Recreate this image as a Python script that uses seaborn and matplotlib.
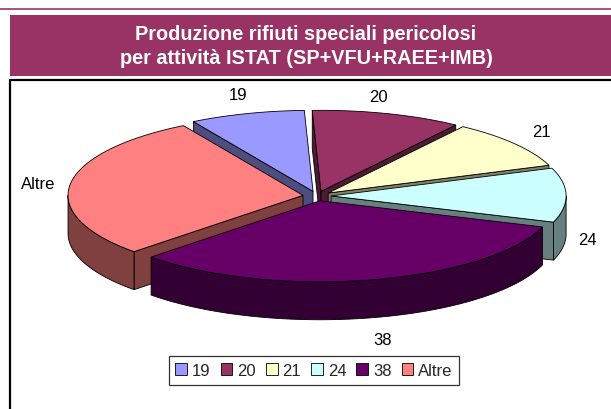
import numpy as np
import matplotlib
matplotlib.use("Agg")
import matplotlib.pyplot as plt
from matplotlib.patches import Polygon, Rectangle, Patch
import seaborn as sns

# data (share of hazardous special waste by ISTAT activity, %)
categories = ["19", "20", "21", "24", "38", "Altre"]
shares = [7.9, 10.3, 9.7, 10.8, 32.5, 28.7]
top_colors = ["#9999FF", "#993366", "#FFFFCC", "#CCFFFF", "#660066", "#FF8080"]
title_lines = ["Produzione rifiuti speciali pericolosi",
               "per attività ISTAT (SP+VFU+RAEE+IMB)"]

sns.set_theme(style="white")
plt.rcParams["font.family"] = ["Liberation Sans", "DejaVu Sans"]

W, H = 611, 410
fig = plt.figure(figsize=(W / 100, H / 100), dpi=100)
ax = fig.add_axes([0, 0, 1, 1])
ax.set_xlim(0, W)
ax.set_ylim(H, 0)
ax.axis("off")

# frame / title band
ax.plot([0, W], [10, 10], color="#993366", lw=1.2)
ax.add_patch(Rectangle((10, 16), W - 10, 61, color="#993366", lw=0))
ax.text(306, 35, title_lines[0], ha="center", va="center", color="white",
        fontsize=14.3, fontweight="bold")
ax.text(306, 59, title_lines[1], ha="center", va="center", color="white",
        fontsize=14.3, fontweight="bold")
ax.plot([10, 10, W], [H, 81, 81], color="black", lw=1.6)

# 3d exploded pie geometry
cx, cy, rx, ry, depth, expl = 317, 197, 235, 81, 38, 0.06
start = -120.6
vals = np.array(shares)
edges = start + np.concatenate([[0], np.cumsum(vals)]) / vals.sum() * 360
# small hand nudges for the data labels (pixels), like excel's placement
nudge = [(0, 0), (-18, 2), (3, -7), (-9, 26), (5, 2), (-2, -15)]


def darker(c, f=0.5):
    r, g, b = matplotlib.colors.to_rgb(c)
    return (r * f, g * f, b * f)


def pt(a, ox, oy, dz=0):
    t = np.radians(a)
    return np.column_stack([cx + ox + rx * np.cos(t), cy + oy + ry * np.sin(t) + dz])


radial, curved, tops, labels = [], [], [], []
for i, cat in enumerate(categories):
    a0, a1 = edges[i], edges[i + 1]
    m = np.radians((a0 + a1) / 2)
    ox, oy = expl * rx * np.cos(m), expl * ry * np.sin(m)
    tip = np.array([[cx + ox, cy + oy]])
    arc = pt(np.linspace(a0, a1, 80), ox, oy)
    tops.append((np.vstack([tip, arc]), top_colors[i]))

    side = darker(top_colors[i])
    # radial cut faces facing the viewer
    for a, vis in ((a0, np.cos(np.radians(a0)) < 0), (a1, np.cos(np.radians(a1)) > 0)):
        if vis:
            o = pt(np.array([a]), ox, oy)
            poly = np.vstack([tip, o, o + [0, depth], tip + [0, depth]])
            radial.append((o[0, 1], poly, side))
    # curved outer side, front half only
    for k in (-360, 0, 360):
        lo, hi = max(a0, k), min(a1, k + 180)
        if lo < hi:
            tt = np.linspace(lo, hi, 80)
            top = pt(tt, ox, oy)
            bot = pt(tt[::-1], ox, oy, depth)
            curved.append((np.vstack([top, bot]), side))

    s = np.sin(m)
    lx = cx + ox + 1.13 * rx * np.cos(m) + nudge[i][0]
    ly = cy + oy + 1.25 * ry * s + depth * (0.5 + 0.5 * s) + nudge[i][1]
    labels.append((lx, ly, cat))

for _, poly, c in sorted(radial, key=lambda r: r[0]):
    ax.add_patch(Polygon(poly, closed=True, fc=c, ec="black", lw=0.6))
for poly, c in curved:
    ax.add_patch(Polygon(poly, closed=True, fc=c, ec="black", lw=0.6))
for poly, c in tops:
    ax.add_patch(Polygon(poly, closed=True, fc=c, ec="black", lw=0.6))

for lx, ly, cat in labels:
    ax.text(lx, ly, cat, ha="center", va="center", fontsize=12, color="black")

handles = [Patch(facecolor=c, edgecolor="black", lw=0.6) for c in top_colors]
leg = ax.legend(handles, categories, loc="center", bbox_to_anchor=(314 / W, 1 - 371.5 / H),
                ncol=6, fontsize=12, frameon=True, fancybox=False, handlelength=0.7,
                handleheight=0.7, handletextpad=0.3, columnspacing=0.6, borderpad=0.4)
leg.get_frame().set_edgecolor("black")
leg.get_frame().set_linewidth(0.9)

fig.savefig("out.png", dpi=100)
